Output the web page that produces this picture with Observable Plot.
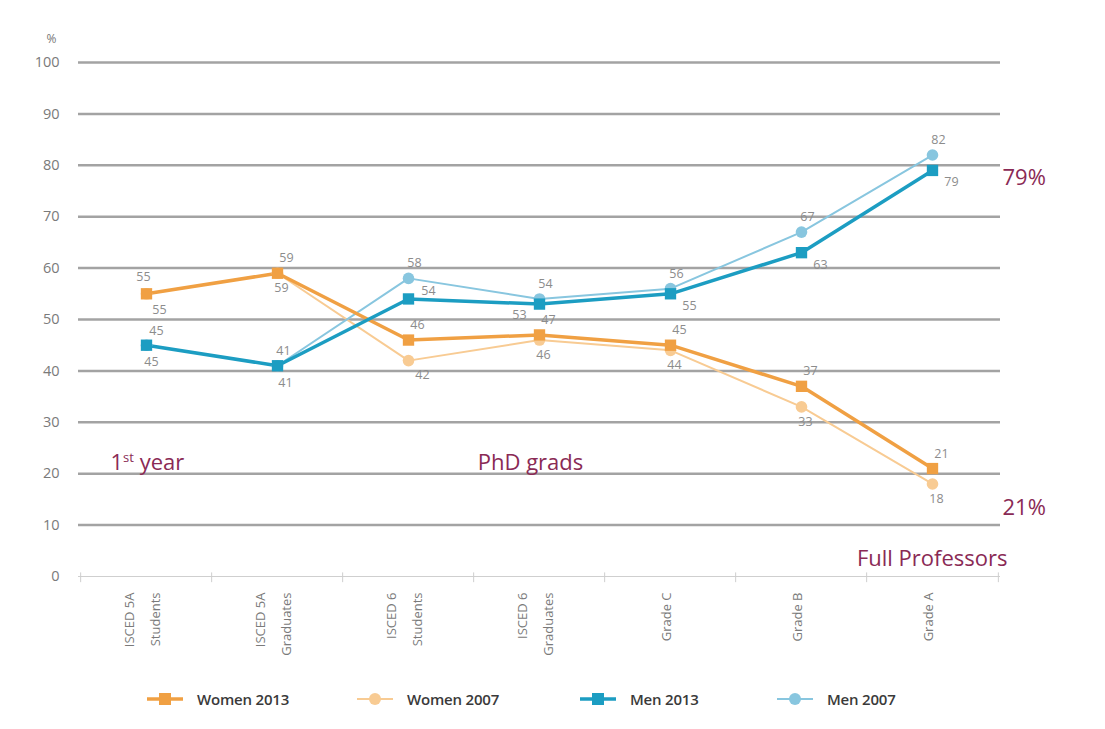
<!DOCTYPE html>
<html><head><meta charset="utf-8">
<script src="https://cdn.jsdelivr.net/npm/d3@7"></script>
<script src="https://cdn.jsdelivr.net/npm/@observablehq/plot@0.6"></script>
<style>
body{margin:0;background:#fff;font-family:"Open Sans",sans-serif}
#legend{position:relative;height:59px;width:1105px}
.item{position:absolute;top:19px;display:flex;align-items:center;font-weight:600;font-size:15px;color:#3a3a3a;white-space:nowrap;letter-spacing:-0.2px}
.item svg{margin-right:14px}
</style></head>
<body><div id="chart"></div><div id="legend"></div>
<script>
// ---- data ----
const categories = ["ISCED 5A\nStudents","ISCED 5A\nGraduates","ISCED 6\nStudents","ISCED 6\nGraduates","Grade C","Grade B","Grade A"];
const women2013 = [55, 59, 46, 47, 45, 37, 21];
const women2007 = [55, 59, 42, 46, 44, 33, 18];
const men2013   = [45, 41, 54, 53, 55, 63, 79];
const men2007   = [45, 41, 58, 54, 56, 67, 82];
const yTicks = [0, 10, 20, 30, 40, 50, 60, 70, 80, 90, 100];
const seriesNames = ["Women 2013", "Women 2007", "Men 2013", "Men 2007"];
const annotations = [
  {cat: "ISCED 5A\nStudents", v: 22, text: "1st year"},
  {cat: "ISCED 6\nGraduates", v: 22, text: "PhD grads"},
  {cat: "Grade A", v: 77.6, text: "79%"},
  {cat: "Grade A", v: 13.4, text: "21%"},
  {cat: "Grade A", v: 3.5, text: "Full Professors"}
];

// ---- styles ----
const styles = {
  "Women 2013": {color: "#f0a043", width: 3.5, symbol: "square", r: 6.4, ldx: 9, ldy: -15},
  "Women 2007": {color: "#f8cb93", width: 2,   symbol: "circle", r: 5.8, ldx: 4, ldy: 15},
  "Men 2013":   {color: "#1c9dc2", width: 3.5, symbol: "square", r: 6.4, ldx: 19, ldy: 12},
  "Men 2007":   {color: "#88c6df", width: 2,   symbol: "circle", r: 5.8, ldx: 6, ldy: -15}
};
// label offset overrides (series, point index) -> [dx, dy]
const labelOverrides = {
  "Men 2013": {0: [5, 17], 1: [8, 17], 2: [20, -8], 3: [-20, 11]},
  "Men 2007": {0: [10, -14]},
  "Women 2013": {0: [-3, -17]},
  "Women 2007": {0: [13, 16], 2: [14, 14]}
};
const valuesBySeries = {"Women 2013": women2013, "Women 2007": women2007, "Men 2013": men2013, "Men 2007": men2007};
const drawOrder = ["Women 2007", "Men 2007", "Women 2013", "Men 2013"];

const rowsFor = name => valuesBySeries[name].map((v, i) => {
  const o = (labelOverrides[name] || {})[i];
  const s = styles[name];
  return {series: name, cat: categories[i], v, ldx: o ? o[0] : s.ldx, ldy: o ? o[1] : s.ldy};
});

const W = 1105, H = 670, ML = 78, MR = 105, MT = 62, MB = 94;
const step = (W - ML - MR) / categories.length;
const maroon = "#8a2a55";

const marks = [
  Plot.ruleY(yTicks.filter(d => d > 0), {y: d => d, stroke: "#a3a3a3", strokeWidth: 2.5}),
  Plot.ruleY([0], {y: d => d, stroke: "#cfcfcf", strokeWidth: 1}),
  Plot.ruleX(categories, {x: d => d, dx: -step / 2, y1: -1.2, y2: 0.7, stroke: "#cfcfcf"}),
  Plot.ruleX(categories.slice(-1), {x: d => d, dx: step / 2, y1: -1.2, y2: 0.7, stroke: "#cfcfcf"}),
  Plot.text(categories, {x: d => d, y: 0, text: d => d, rotate: -90, textAnchor: "end", lineAnchor: "middle",
    dy: 16, dx: -8, fontSize: 13, fill: "#7a7a7a", lineHeight: 2.05})
];
for (const name of drawOrder) {
  const s = styles[name];
  marks.push(Plot.line(rowsFor(name), {x: "cat", y: "v", stroke: s.color, strokeWidth: s.width}));
}
for (const name of drawOrder) {
  const s = styles[name];
  marks.push(Plot.dot(rowsFor(name), {x: "cat", y: "v", fill: s.color, symbol: s.symbol, r: s.r}));
}
for (const name of drawOrder) {
  for (const row of rowsFor(name)) {
    marks.push(Plot.text([row], {x: "cat", y: "v", text: d => String(d.v), dx: row.ldx, dy: row.ldy,
      fill: "#8c8c8c", fontSize: 12.5}));
  }
}
marks.push(Plot.text(annotations.slice(0, 1), {x: "cat", y: "v", text: "text", textAnchor: "start", dx: -36, fill: maroon, fontSize: 22}));
marks.push(Plot.text(annotations.slice(1, 2), {x: "cat", y: "v", text: "text", textAnchor: "middle", dx: -9, fill: maroon, fontSize: 22}));
marks.push(Plot.text(annotations.slice(2, 4), {x: "cat", y: "v", text: "text", textAnchor: "start", dx: 70, fill: maroon, fontSize: 22}));
marks.push(Plot.text(annotations.slice(4), {x: "cat", y: "v", text: "text", textAnchor: "end", dx: 75, fill: maroon, fontSize: 22}));
marks.push(Plot.text(["%"], {frameAnchor: "top-left", text: d => d, dx: -32, dy: -28, fill: "#777", fontSize: 12}));

const chart = Plot.plot({
  width: W, height: H,
  marginLeft: ML, marginRight: MR, marginTop: MT, marginBottom: MB,
  style: {fontFamily: "'Open Sans', sans-serif", fontSize: "14.5px", color: "#7a7a7a", background: "#fff", overflow: "visible"},
  x: {type: "point", domain: categories, padding: 0.5, axis: null},
  y: {domain: [0, 100], ticks: yTicks, tickSize: 0, tickPadding: 19, label: null},
  marks
});
document.getElementById("chart").appendChild(chart);

// superscript in "1st year"
d3.select(chart).selectAll("text").each(function() {
  if (this.textContent === "1st year") {
    const t = d3.select(this);
    t.text("");
    t.append("tspan").text("1");
    t.append("tspan").attr("font-size", 13).attr("dy", -8).text("st");
    t.append("tspan").attr("dy", 8).text(" year");
  }
});

// ---- legend ----
const legendLeft = [147, 357, 580, 777];
const legend = d3.select("#legend");
seriesNames.forEach((name, i) => {
  const s = styles[name];
  const item = legend.append("div").attr("class", "item").style("left", legendLeft[i] + "px");
  const svg = item.append("svg").attr("width", 36).attr("height", 14);
  svg.append("line").attr("x1", 0).attr("x2", 36).attr("y1", 7).attr("y2", 7)
    .attr("stroke", s.color).attr("stroke-width", s.width);
  if (s.symbol === "square") svg.append("rect").attr("x", 12).attr("y", 1).attr("width", 12).attr("height", 12).attr("fill", s.color);
  else svg.append("circle").attr("cx", 18).attr("cy", 7).attr("r", 6).attr("fill", s.color);
  item.append("span").text(name);
});
</script></body></html>
